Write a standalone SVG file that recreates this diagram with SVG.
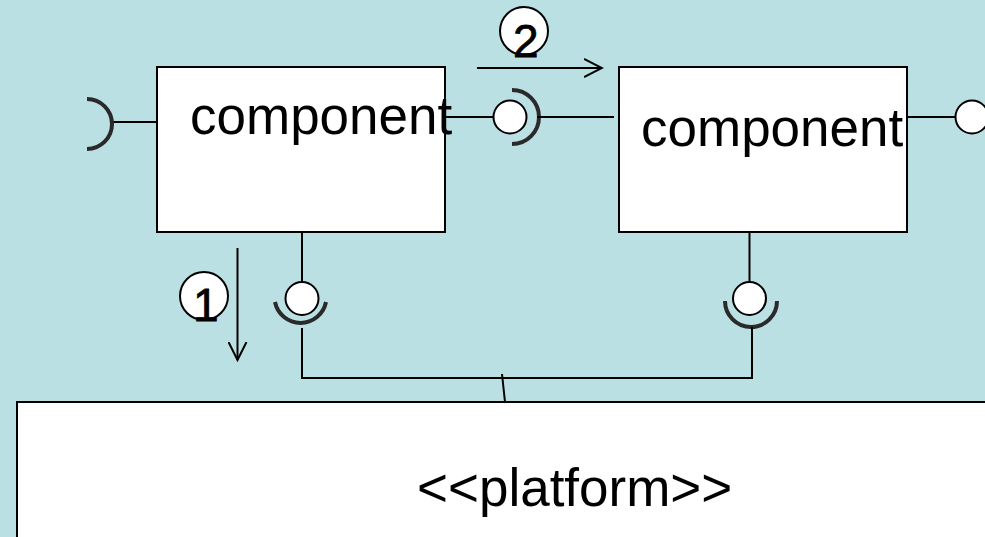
<svg xmlns="http://www.w3.org/2000/svg" width="985" height="537" viewBox="0 0 985 537">
  <style>
    .box { fill: #ffffff; stroke: #000000; stroke-width: 2; }
    .wire { fill: none; stroke: #000000; stroke-width: 2; }
    .ball { fill: #ffffff; stroke: #000000; stroke-width: 2; }
    .socket { fill: none; stroke: #2a2a2a; stroke-width: 4; stroke-linecap: butt; }
    .label { font-family: "Liberation Sans", Arial, sans-serif; font-size: 53px; fill: #000000; }
    .num { font-family: "Liberation Sans", Arial, sans-serif; font-size: 46px; fill: #000000; stroke: #000000; stroke-width: 0.8; }
    .step { fill: #ffffff; stroke: #000000; stroke-width: 2; }
  </style>
  <defs>
    <marker id="open-arrow" viewBox="0 0 20 20" refX="18" refY="10" markerWidth="20" markerHeight="20" markerUnits="userSpaceOnUse" orient="auto">
      <path d="M0,1 L18,10 L0,19" fill="none" stroke="#000000" stroke-width="2"/>
    </marker>
  </defs>

  <rect x="0" y="0" width="985" height="537" fill="#bbe0e3"/>

  <g id="connectors">
    <!-- left required interface of component 1 -->
    <line class="wire" x1="112" y1="122" x2="157" y2="122"/>
    <path class="socket" d="M87,99 A25,25 0 0 1 87,149"/>
    <!-- component 1 to component 2 -->
    <line class="wire" x1="445" y1="117" x2="494" y2="117"/>
    <path class="socket" d="M512,90 A27,27 0 0 1 512,144"/>
    <line class="wire" x1="537" y1="117" x2="614" y2="117" stroke-width="3"/>
    <circle class="ball" cx="510" cy="117" r="16.5"/>
    <!-- component 2 provided interface on right -->
    <line class="wire" x1="907" y1="117" x2="956" y2="117"/>
    <circle class="ball" cx="972" cy="117" r="16.5"/>
    <!-- component 1 down to platform bus -->
    <line class="wire" x1="302" y1="232" x2="302" y2="282"/>
    <path class="socket" d="M275,302 A26,26 0 0 0 326,302"/>
    <circle class="ball" cx="302" cy="298.5" r="16.5"/>
    <line class="wire" x1="302" y1="328" x2="302" y2="379"/>
    <!-- component 2 down to platform bus -->
    <line class="wire" x1="749.5" y1="232" x2="749.5" y2="282"/>
    <path class="socket" d="M725,301 A26,26 0 0 0 777,301"/>
    <circle class="ball" cx="749.5" cy="298.5" r="16.5"/>
    <line class="wire" x1="752" y1="327" x2="752" y2="379"/>
    <!-- bus -->
    <line class="wire" x1="302" y1="378" x2="753" y2="378"/>
    <line class="wire" x1="502" y1="374" x2="505" y2="402"/>
    <!-- sequence arrows -->
    <line class="wire" x1="477" y1="68" x2="602" y2="68" marker-end="url(#open-arrow)"/>
    <line class="wire" x1="237.5" y1="248" x2="237.5" y2="360" marker-end="url(#open-arrow)"/>
  </g>

  <g id="component-1">
    <rect class="box" x="157" y="67" width="288" height="165"/>
    <text class="label" x="190" y="134">component</text>
  </g>

  <g id="component-2">
    <rect class="box" x="619" y="67" width="288" height="165"/>
    <text class="label" x="641" y="146">component</text>
  </g>

  <g id="platform">
    <rect class="box" x="17" y="402" width="980" height="150"/>
    <text class="label" x="417" y="506">&lt;&lt;platform&gt;&gt;</text>
  </g>

  <g id="step-1">
    <circle class="step" cx="204" cy="296" r="24"/>
    <text class="num" x="193" y="321">1</text>
  </g>

  <g id="step-2">
    <circle class="step" cx="524" cy="31" r="24"/>
    <text class="num" x="513" y="57">2</text>
  </g>
</svg>
